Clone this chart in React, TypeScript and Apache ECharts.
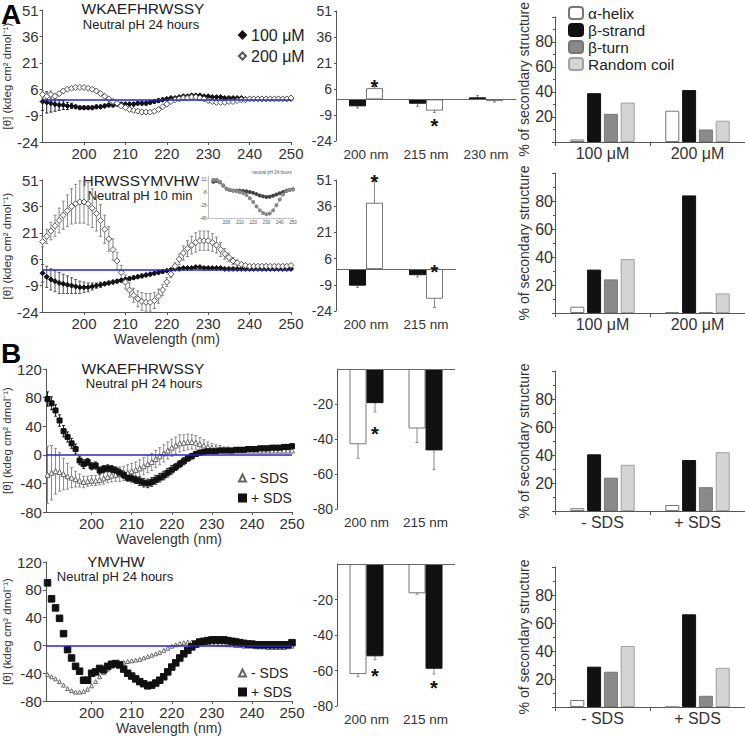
import React, { useEffect, useRef } from 'react';
import * as echarts from 'echarts';

const FN = "'Liberation Sans Narrow', 'Arial Narrow', 'Liberation Sans', Arial, sans-serif";
const FR = "'Liberation Sans', Arial, sans-serif";
const TXT = '#333333';
const AXC = '#555555';

// ---- CD spectra: wavelengths ----
const WL_A = Array.from({ length: 61 }, (_, i) => 190 + i);
const WL_B = Array.from({ length: 62 }, (_, i) => 189 + i);
const CD_TICKS = [200, 210, 220, 230, 240, 250];

// Row A1: WKAEFHRWSSY neutral pH 24 h
const A1_100 = [-1, -1.5, -2, -2.5, -3, -3, -3.5, -3.5, -4, -4.5,
  -4.5, -4.5, -4.5, -4, -4, -3.5, -3, -3, -2.5, -2.5,
  -2.5, -2.5, -2.5, -2, -2, -2, -1.5, -1, -0.5, 0,
  0.5, 1, 1, 1.5, 2, 2, 2.5, 2.5, 2.5, 2,
  2, 1.5, 1.5, 1.5, 1, 1, 1, 1, 1, 0.5,
  0.5, 0.5, 0.5, 0.5, 0.5, 0.5, 0.5, 0.5, 0.5, 0.5,
  0.5];
const A1_100_ERR = [5, 6, 5, 4, 3, 2.5, 2, 1.5, 1, 1,
  1, 1, 1, 1, 1, 1, 1, 1, 1, 1,
  1, 1, 1, 1, 1, 1, 1, 1, 1, 1,
  0.5, 0.5, 0.5, 0.5, 0.5, 0.5, 0.5, 0.5, 0.5, 0.5,
  0.5, 0.5, 0.5, 0.5, 0.5, 0.5, 0.5, 0.5, 0.5, 0.5,
  0.5, 0.5, 0.5, 0.5, 0.5, 0.5, 0.5, 0.5, 0.5, 0.5,
  0.5];
const A1_200 = [3, 2, 3, 2, 3.5, 5, 6, 6.5, 7, 7,
  7, 6.5, 6, 5, 3.5, 2, 0.5, -1, -2, -3.5,
  -4.5, -5.5, -6, -6.5, -7, -7, -7, -6.5, -5.5, -4,
  -2.5, -1, 0, 0.5, 1, 1, 1.5, 1.5, 1, 0.5,
  -0.5, -1, -1.5, -1.5, -1.5, -1, -1, -0.5, 0, 0,
  0.5, 0.5, 0.5, 0.5, 0.5, 0.5, 0.5, 0.5, 0.5, 0.5,
  1];
const A1_200_ERR = [2, 2, 2, 1.5, 1, 0.5, 0.5, 0.5, 0.5, 0.5,
  0.5, 0.5, 0.5, 0.5, 0.5, 0.5, 0.5, 0.5, 0.5, 0.5,
  0.5, 0.5, 0.5, 0.5, 0.5, 0.5, 0.5, 0.5, 0.5, 0.5,
  0.5, 0.5, 0.5, 0.5, 0.5, 0.5, 0.5, 0.5, 0.5, 0.5,
  0.5, 0.5, 0.5, 0.5, 0.5, 0.5, 0.5, 0.5, 0.5, 0.5,
  0.5, 0.5, 0.5, 0.5, 0.5, 0.5, 0.5, 0.5, 0.5, 0.5,
  0.5];

// Row A2: HRWSSYMVHW neutral pH 10 min
const A2_100 = [-2, -4, -5.5, -6.5, -7.5, -8, -8.5, -9, -9.5, -10,
  -10, -10, -9.5, -9, -8.5, -8, -7.5, -7, -6.5, -6,
  -5.5, -5, -4.5, -4, -3.5, -3, -2.5, -2, -1.5, -1,
  -0.5, 0, 0.5, 0.5, 1, 1, 1, 1.5, 1.5, 1,
  1, 1, 1, 1, 0.5, 0.5, 0.5, 0.5, 0.5, 0.5,
  0.5, 0.5, 0.5, 0.5, 0.5, 0.5, 0.5, 0.5, 0.5, 0.5,
  0.5];
const A2_100_ERR = [5, 6, 6, 6, 6, 5.5, 5, 4.5, 4, 3.5,
  3, 2.5, 2, 1.5, 1.5, 1, 1, 1, 1, 1,
  1, 1, 1, 1, 1, 1, 1, 1, 1, 1,
  0.5, 0.5, 0.5, 0.5, 0.5, 0.5, 0.5, 0.5, 0.5, 0.5,
  0.5, 0.5, 0.5, 0.5, 0.5, 0.5, 0.5, 0.5, 0.5, 0.5,
  0.5, 0.5, 0.5, 0.5, 0.5, 0.5, 0.5, 0.5, 0.5, 0.5,
  0.5];
const A2_200 = [16, 19, 22, 25, 28, 31, 33.5, 36, 37.5, 38.5,
  38.5, 37.5, 35, 32, 28, 23, 17.5, 11.5, 5, -1.5,
  -7, -11.5, -14.5, -16.5, -18, -18.5, -18.5, -17.5, -15, -11.5,
  -7, -2.5, 2, 6, 9.5, 12, 14, 15.5, 16.5, 16.5,
  16.5, 15.5, 14, 11.5, 9, 7, 5, 4, 3, 2.5,
  2, 2, 2, 2, 2, 2, 2, 2, 2, 2,
  2.5];
const A2_200_ERR = [3, 4, 5, 6, 7, 8, 9, 10, 11, 12,
  12, 12, 11, 10, 9, 8, 7, 6, 5, 4,
  4, 4, 4, 4.5, 5, 5, 5, 4.5, 4, 3,
  2.5, 2, 2, 3, 4, 4.5, 5, 5.5, 5.5, 5.5,
  5.5, 5, 4.5, 4, 3, 2.5, 2, 1.5, 1, 1,
  1, 1, 1, 1, 1, 1, 1, 1, 1, 1,
  1];

// Inset: HRWSSYMVHW neutral pH 24 hours
const INSET_WL = [190, 192.5, 195, 197.5, 200, 202.5, 205, 207.5, 210, 212.5, 215, 217.5, 220,
  222.5, 225, 227.5, 230, 232.5, 235, 237.5, 240, 242.5, 245, 247.5, 250];
const INSET_100 = [9, 10, 8, 3, -2, -4, -5, -5, -5, -5.5, -6, -7, -8.5, -10.5, -12.5, -14, -15,
  -14.5, -13, -11, -9, -7, -5, -4, -3];
const INSET_200 = [12, 12, 9, 3, -2, -4, -5, -6, -7, -9, -12, -17, -23, -30, -36, -40, -42,
  -41, -36, -28, -19, -11, -6, -4, -3];

// Row B1: WKAEFHRWSSY -/+ SDS
const B1_MINUS = [-28, -25, -23, -24, -27, -30, -32, -34, -36, -38,
  -37, -36, -36, -35, -33, -31, -29, -28, -27, -26,
  -25, -23, -21, -19, -16, -13, -10, -6, -2, 2,
  6, 10, 13, 16, 17, 18, 18, 17, 15, 13,
  11, 10, 9, 8, 7, 7, 6, 6, 6, 6,
  6, 6, 6, 6, 6, 6, 6, 6, 6, 6,
  6, 6];
const B1_MINUS_ERR = [40, 38, 32, 27, 22, 18, 14, 11, 9, 8,
  7, 7, 7, 7, 8, 8, 9, 9, 10, 10,
  11, 11, 11, 12, 12, 12, 12, 12, 12, 12,
  12, 12, 12, 12, 11, 11, 10, 10, 9, 8,
  7, 6, 5, 5, 4, 4, 3, 3, 3, 3,
  3, 3, 3, 3, 3, 3, 3, 3, 3, 3,
  3, 3];
const B1_PLUS = [78, 72, 62, 48, 33, 25, 16, 8, -8, -13,
  -10, -16, -15, -22, -20, -19, -20, -22, -25, -28,
  -32, -33, -35, -37, -39, -40, -38, -35, -32, -29,
  -25, -21, -17, -13, -9, -5, -2, 1, 3, 4,
  5, 5, 5, 6, 6, 6, 6, 7, 7, 7,
  8, 8, 8, 9, 9, 9, 10, 10, 10, 11,
  11, 12];
const B1_PLUS_ERR = [10, 9, 8, 8, 8, 7, 7, 7, 6, 6,
  5, 5, 5, 5, 5, 5, 5, 5, 5, 5,
  5, 5, 5, 6, 6, 6, 6, 6, 6, 6,
  6, 6, 5, 5, 5, 4, 4, 3, 3, 3,
  3, 3, 3, 3, 3, 3, 3, 3, 3, 3,
  3, 3, 3, 3, 3, 3, 3, 3, 3, 3,
  3, 3];

// Row B2: YMVHW -/+ SDS
const B2_MINUS = [-42, -45, -48, -52, -57, -62, -65, -67, -67, -66,
  -63, -58, -52, -45, -39, -34, -30, -27, -25, -24,
  -23, -22, -21, -20, -18, -16, -14, -12, -10, -7,
  -4, -1, 1, 3, 4, 5, 5, 5, 5, 4,
  4, 3, 3, 2, 2, 1, 1, 0, 0, -1,
  -1, -1, -2, -2, -2, -3, -3, -3, -3, -3,
  -2, -1];
const B2_PLUS = [90, 67, 54, 39, 17, -6, -18, -30, -37, -50,
  -50, -40, -38, -33, -35, -30, -27, -26, -28, -34,
  -40, -44, -48, -52, -55, -58, -57, -54, -50, -45,
  -38, -31, -25, -18, -12, -7, -2, 2, 5, 6,
  7, 8, 8, 8, 8, 7, 6, 5, 4, 3,
  2, 2, 1, 1, 1, 1, 1, 1, 1, 1,
  1, 4];

// ---- Ellipticity bar charts ----
const NM3 = ['200 nm', '215 nm', '230 nm'];
const NM2 = ['200 nm', '215 nm'];
const BA1_BLACK = [-4, -2.5, 1.2];
const BA1_BLACK_ERR = [1, 1.5, 1];
const BA1_WHITE = [6.5, -6.5, -1];
const BA1_WHITE_ERR = [1, 1, 0.5];
const BA1_STARS = [[0, 10], [1, -12.5]];
const BA2_BLACK = [-9.5, -3.5];
const BA2_BLACK_ERR = [1, 1];
const BA2_WHITE = [38, -17];
const BA2_WHITE_ERR = [13, 5];
const BA2_STARS = [[0, 53], [1, 1]];
const BB1_WHITE = [-43, -34];
const BB1_WHITE_ERR = [8, 8];
const BB1_BLACK = [-19.5, -46.5];
const BB1_BLACK_ERR = [5, 11];
const BB1_STARS = [[0, -34]];
const BB2_WHITE = [-62, -16.5];
const BB2_WHITE_ERR = [1.5, 0.5];
const BB2_BLACK = [-52, -59];
const BB2_BLACK_ERR = [2, 3];
const BB2_STARS = [[0, -60], [1, -67]];

// ---- Secondary structure (%) ----
const SS_CONC = ['100 μM', '200 μM'];
const SS_SDS = ['- SDS', '+ SDS'];
const SS_NAMES = ['α-helix', 'β-strand', 'β-turn', 'Random coil'];
const SS_A1 = [[2, 25], [39, 41.5], [22.5, 10], [31.5, 17]];
const SS_A2 = [[4.5, 0.5], [31, 84], [24, 0.5], [38.5, 14]];
const SS_B1 = [[2, 4.3], [40.5, 36.4], [23.8, 17], [33, 42]];
const SS_B2 = [[5, 0], [28.8, 66.2], [25.2, 8], [43.6, 28]];

const SS_STYLE = [
  { color: '#ffffff', borderColor: '#777777' },
  { color: '#111111', borderColor: '#111111' },
  { color: '#8a8a8a', borderColor: '#777777' },
  { color: '#d4d4d4', borderColor: '#a0a0a0' },
];

function errorRender(color: string, cap: number, dx: number) {
  return (params: any, api: any) => {
    const x = api.value(0);
    const y = api.value(1);
    const e = api.value(2);
    const hi = api.coord([x, y + e]);
    const lo = api.coord([x, y - e]);
    const cx = hi[0] + dx;
    const style = { stroke: color, lineWidth: 1 };
    return {
      type: 'group',
      children: [
        { type: 'line', shape: { x1: cx, y1: hi[1], x2: cx, y2: lo[1] }, style },
        { type: 'line', shape: { x1: cx - cap, y1: hi[1], x2: cx + cap, y2: hi[1] }, style },
        { type: 'line', shape: { x1: cx - cap, y1: lo[1], x2: cx + cap, y2: lo[1] }, style },
      ],
    };
  };
}

function starRender(dx: number) {
  return (params: any, api: any) => {
    const p = api.coord([api.value(0), api.value(1)]);
    return {
      type: 'text',
      x: p[0] + dx,
      y: p[1] + 5,
      style: {
        text: '*', fontSize: 20, fontWeight: 'bold', fontFamily: FR, fill: '#111',
        align: 'center', verticalAlign: 'middle', textAlign: 'center', textVerticalAlign: 'middle',
      },
    };
  };
}

function errSeries(gi: number, xs: any[], ys: number[], es: number[], color: string, cap: number, dx = 0) {
  return {
    type: 'custom', xAxisIndex: gi, yAxisIndex: gi, silent: true, clip: false, z: 2,
    renderItem: errorRender(color, cap, dx),
    encode: { x: 0, y: 1 },
    data: xs.map((x, i) => [x, ys[i], es[i]]),
  };
}

function starSeries(gi: number, stars: number[][], dx: number) {
  return {
    type: 'custom', xAxisIndex: gi, yAxisIndex: gi, silent: true, clip: false, z: 5,
    renderItem: starRender(dx), encode: { x: 0, y: 1 }, data: stars,
  };
}

function scatter(name: string, gi: number, xs: number[], ys: number[], symbol: string, size: number, color: string, border: string, zero = false) {
  const s: any = {
    type: 'scatter', name, xAxisIndex: gi, yAxisIndex: gi, symbol, symbolSize: size, z: 3,
    itemStyle: { color, borderColor: border, borderWidth: 1, opacity: 1 },
    data: xs.map((x, i) => [x, ys[i]]),
  };
  if (zero) {
    s.markLine = {
      silent: true, symbol: ['none', 'none'], label: { show: false }, animation: false,
      lineStyle: { color: '#2626c8', width: 1.6, type: 'solid' }, data: [{ yAxis: 0 }],
    };
  }
  return s;
}

function bar(gi: number, data: number[], color: string, border: string, zero = false) {
  const s: any = {
    type: 'bar', xAxisIndex: gi, yAxisIndex: gi, data, barWidth: 17, barGap: '0%',
    itemStyle: { color, borderColor: border, borderWidth: 1 }, z: 2,
  };
  if (zero) {
    s.markLine = {
      silent: true, symbol: ['none', 'none'], label: { show: false }, animation: false,
      lineStyle: { color: '#666', width: 1, type: 'solid' }, data: [{ yAxis: 0 }],
    };
  }
  return s;
}

function ssBars(gi: number, groups: number[][]) {
  return SS_NAMES.map((name, k) => ({
    type: 'bar', name, xAxisIndex: gi, yAxisIndex: gi, data: groups[k], barWidth: 14, barGap: '20%',
    itemStyle: { color: SS_STYLE[k].color, borderColor: SS_STYLE[k].borderColor, borderWidth: 1 },
  }));
}

function cdX(gi: number, min: number, withName: boolean) {
  return {
    gridIndex: gi, type: 'value', min, max: 250,
    axisLine: { show: true, onZero: false, lineStyle: { color: AXC } },
    axisTick: { show: true, length: 3, customValues: CD_TICKS, lineStyle: { color: AXC } },
    axisLabel: { customValues: CD_TICKS, fontSize: 15, margin: 4, color: TXT, fontFamily: FN },
    splitLine: { show: false },
    name: withName ? 'Wavelength (nm)' : '',
    nameLocation: 'middle', nameGap: 16,
    nameTextStyle: { fontSize: 14, color: TXT, fontFamily: FN },
  };
}

function cdY(gi: number, min: number, max: number, interval: number) {
  return {
    gridIndex: gi, type: 'value', min, max, interval,
    axisLine: { show: true, lineStyle: { color: AXC } },
    axisTick: { show: true, length: 3, lineStyle: { color: AXC } },
    axisLabel: { fontSize: 15, margin: 4, color: TXT, fontFamily: FN },
    splitLine: { show: false },
    name: '[θ] (kdeg cm² dmol⁻¹)', nameLocation: 'middle', nameGap: 20,
    nameTextStyle: { fontSize: 11.5, color: TXT, fontFamily: FR },
  };
}

function barX(gi: number, cats: string[]) {
  return {
    gridIndex: gi, type: 'category', data: cats, position: 'bottom',
    axisLine: { show: false, onZero: false }, axisTick: { show: false },
    axisLabel: { fontSize: 13.5, margin: 6, color: TXT, fontFamily: FN },
    splitLine: { show: false },
  };
}

function barY(gi: number, min: number, max: number, interval: number, hideMax: boolean) {
  return {
    gridIndex: gi, type: 'value', min, max, interval,
    axisLine: { show: true, lineStyle: { color: AXC } },
    axisTick: { show: true, length: 2, lineStyle: { color: AXC } },
    axisLabel: { fontSize: 14, margin: 4, color: TXT, fontFamily: FN, showMaxLabel: !hideMax },
    splitLine: { show: false },
  };
}

function ssX(gi: number, cats: string[]) {
  return {
    gridIndex: gi, type: 'category', data: cats,
    axisLine: { show: true, onZero: false, lineStyle: { color: AXC } },
    axisTick: { show: true, length: 4, lineStyle: { color: AXC } },
    axisLabel: { fontSize: 16, margin: 3, color: TXT, fontFamily: FN },
    splitLine: { show: false },
  };
}

function ssY(gi: number) {
  return {
    gridIndex: gi, type: 'value', min: 0, max: 100, interval: 20,
    axisLine: { show: true, lineStyle: { color: AXC } },
    axisTick: { show: true, length: 3, lineStyle: { color: AXC } },
    minorTick: { show: true, splitNumber: 2, length: 2, lineStyle: { color: AXC } },
    axisLabel: { fontSize: 16, margin: 2, color: TXT, fontFamily: FN, showMinLabel: false, showMaxLabel: false },
    splitLine: { show: false },
    name: '% of secondary structure', nameLocation: 'middle', nameGap: 17,
    nameTextStyle: { fontSize: 14, color: TXT, fontFamily: FR },
  };
}

function gtext(text: string, x: number, y: number, fontSize: number, extra: any = {}) {
  return {
    type: 'text', x, y, silent: true,
    style: {
      text, fontSize, fontFamily: FN, fill: '#222',
      align: 'center', verticalAlign: 'middle', textAlign: 'center', textVerticalAlign: 'middle',
      ...extra,
    },
  };
}

function buildOption() {
  const grid = [
    { left: 33, top: 10, width: 258, height: 132 },
    { left: 33, top: 180, width: 258, height: 132 },
    { left: 33, top: 369, width: 259, height: 143 },
    { left: 33, top: 562, width: 259, height: 144 },
    { left: 208, top: 176, width: 85, height: 42 },
    { left: 336, top: 11, width: 180, height: 130 },
    { left: 336, top: 180, width: 120, height: 131 },
    { left: 337, top: 369, width: 118, height: 140 },
    { left: 337, top: 564, width: 118, height: 142 },
    { left: 555, top: 2, width: 190, height: 140 },
    { left: 555, top: 173, width: 190, height: 140 },
    { left: 555, top: 371, width: 190, height: 140 },
    { left: 555, top: 567, width: 190, height: 140 },
  ];

  const xAxis: any[] = [
    cdX(0, 190, false),
    cdX(1, 190, true),
    cdX(2, 188.6, true),
    cdX(3, 188.6, true),
    {
      gridIndex: 4, type: 'value', min: 186, max: 250,
      axisLine: { show: true, onZero: false, lineStyle: { color: '#999', width: 0.6 } },
      axisTick: { show: true, length: 1, customValues: CD_TICKS, lineStyle: { color: '#999', width: 0.6 } },
      axisLabel: { customValues: CD_TICKS, fontSize: 4.5, margin: 1.5, color: '#555', fontFamily: FN },
      splitLine: { show: false },
    },
    barX(5, NM3),
    barX(6, NM2),
    barX(7, NM2),
    barX(8, NM2),
    ssX(9, SS_CONC),
    ssX(10, SS_CONC),
    ssX(11, SS_SDS),
    ssX(12, SS_SDS),
  ];

  const yAxis: any[] = [
    cdY(0, -24, 51, 15),
    cdY(1, -24, 51, 15),
    cdY(2, -80, 120, 40),
    cdY(3, -80, 120, 40),
    {
      gridIndex: 4, type: 'value', min: -48, max: 18, interval: 20,
      axisLine: { show: true, lineStyle: { color: '#999', width: 0.6 } },
      axisTick: { show: true, length: 1, lineStyle: { color: '#999', width: 0.6 } },
      axisLabel: { fontSize: 4.5, margin: 1.5, color: '#555', fontFamily: FN },
      splitLine: { show: false },
    },
    barY(5, -24, 51, 15, false),
    barY(6, -24, 51, 15, false),
    barY(7, -80, 0, 20, true),
    barY(8, -80, 0, 20, true),
    ssY(9),
    ssY(10),
    ssY(11),
    ssY(12),
  ];

  const series: any[] = [
    // A1
    errSeries(0, WL_A, A1_100, A1_100_ERR, '#222', 1.5),
    errSeries(0, WL_A, A1_200, A1_200_ERR, '#888', 1.5),
    scatter('100 μM', 0, WL_A, A1_100, 'diamond', 5, '#111', '#111', true),
    scatter('200 μM', 0, WL_A, A1_200, 'diamond', 6, '#fff', '#555'),
    // A2
    errSeries(1, WL_A, A2_100, A2_100_ERR, '#555', 1.5),
    errSeries(1, WL_A, A2_200, A2_200_ERR, '#888', 1.5),
    scatter('100 μM', 1, WL_A, A2_100, 'diamond', 5, '#111', '#111', true),
    scatter('200 μM', 1, WL_A, A2_200, 'diamond', 6, '#fff', '#555'),
    // inset
    {
      type: 'line', xAxisIndex: 4, yAxisIndex: 4, symbol: 'emptyCircle', symbolSize: 2,
      lineStyle: { color: '#444', width: 0.7 }, itemStyle: { color: '#444' },
      data: INSET_WL.map((x, i) => [x, INSET_100[i]]),
    },
    {
      type: 'line', xAxisIndex: 4, yAxisIndex: 4, symbol: 'emptyCircle', symbolSize: 2,
      lineStyle: { color: '#888', width: 0.7 }, itemStyle: { color: '#888' },
      data: INSET_WL.map((x, i) => [x, INSET_200[i]]),
    },
    // B1
    errSeries(2, WL_B, B1_MINUS, B1_MINUS_ERR, '#8a8a8a', 1.5),
    errSeries(2, WL_B, B1_PLUS, B1_PLUS_ERR, '#222', 1.5),
    scatter('- SDS', 2, WL_B, B1_MINUS, 'triangle', 5, '#fff', '#666', true),
    scatter('+ SDS', 2, WL_B, B1_PLUS, 'rect', 5, '#111', '#111'),
    // B2
    scatter('- SDS', 3, WL_B, B2_MINUS, 'triangle', 4, '#fff', '#666', true),
    scatter('+ SDS', 3, WL_B, B2_PLUS, 'rect', 6.5, '#111', '#111'),
    // ellipticity bars A1
    bar(5, BA1_BLACK, '#111', '#111', true),
    bar(5, BA1_WHITE, '#fff', '#777'),
    errSeries(5, [0, 1, 2], BA1_BLACK, BA1_BLACK_ERR, '#888', 1.5, -8.5),
    errSeries(5, [0, 1, 2], BA1_WHITE, BA1_WHITE_ERR, '#888', 1.5, 8.5),
    starSeries(5, BA1_STARS, 8.5),
    // A2
    bar(6, BA2_BLACK, '#111', '#111', true),
    bar(6, BA2_WHITE, '#fff', '#777'),
    errSeries(6, [0, 1], BA2_BLACK, BA2_BLACK_ERR, '#888', 1.5, -8.5),
    errSeries(6, [0, 1], BA2_WHITE, BA2_WHITE_ERR, '#888', 1.5, 8.5),
    starSeries(6, BA2_STARS, 8.5),
    // B1
    bar(7, BB1_WHITE, '#fff', '#777', true),
    bar(7, BB1_BLACK, '#111', '#111'),
    errSeries(7, [0, 1], BB1_WHITE, BB1_WHITE_ERR, '#888', 1.5, -8.5),
    errSeries(7, [0, 1], BB1_BLACK, BB1_BLACK_ERR, '#888', 1.5, 8.5),
    starSeries(7, BB1_STARS, 8.5),
    // B2
    bar(8, BB2_WHITE, '#fff', '#777', true),
    bar(8, BB2_BLACK, '#111', '#111'),
    errSeries(8, [0, 1], BB2_WHITE, BB2_WHITE_ERR, '#888', 1.5, -8.5),
    errSeries(8, [0, 1], BB2_BLACK, BB2_BLACK_ERR, '#888', 1.5, 8.5),
    starSeries(8, BB2_STARS, 8.5),
    // secondary structure
    ...ssBars(9, SS_A1),
    ...ssBars(10, SS_A2),
    ...ssBars(11, SS_B1),
    ...ssBars(12, SS_B2),
  ];

  const legend = [
    {
      data: ['100 μM', '200 μM'], orient: 'vertical', left: 238, top: 27, padding: 0,
      itemWidth: 7, itemHeight: 7, itemGap: 5, selectedMode: false,
      textStyle: { fontSize: 16, lineHeight: 16, color: '#222', fontFamily: FN },
    },
    {
      data: ['- SDS', '+ SDS'], orient: 'vertical', left: 238, top: 471, padding: 0,
      itemWidth: 7, itemHeight: 7, itemGap: 6, selectedMode: false,
      textStyle: { fontSize: 14, lineHeight: 14, color: '#222', fontFamily: FN },
    },
    {
      data: ['- SDS', '+ SDS'], orient: 'vertical', left: 238, top: 666, padding: 0,
      itemWidth: 7, itemHeight: 7, itemGap: 5, selectedMode: false,
      textStyle: { fontSize: 14, lineHeight: 14, color: '#222', fontFamily: FN },
    },
    {
      data: SS_NAMES, orient: 'vertical', left: 568, top: 5, padding: 0,
      itemWidth: 14, itemHeight: 12, itemGap: 1, selectedMode: false,
      textStyle: { fontSize: 15.5, lineHeight: 14, color: '#222', fontFamily: FN },
    },
  ];

  const graphic = [
    { type: 'text', x: 1, y: 0, silent: true, style: { text: 'A', fontSize: 28, fontWeight: 'bold', fontFamily: FR, fill: '#000' } },
    { type: 'text', x: 1, y: 339, silent: true, style: { text: 'B', fontSize: 28, fontWeight: 'bold', fontFamily: FR, fill: '#000' } },
    gtext('WKAEFHRWSSY', 143, 8, 15.5),
    gtext('Neutral pH 24 hours', 141, 24, 13),
    gtext('HRWSSYMVHW', 141, 180, 15.5),
    gtext('Neutral pH 10 min', 140, 195, 13),
    gtext('neutral pH 24 hours', 272, 172, 4.5, { fill: '#555' }),
    gtext('WKAEFHRWSSY', 143, 368, 15.5),
    gtext('Neutral pH 24 hours', 144, 383, 13),
    gtext('YMVHW', 116, 561, 15),
    gtext('Neutral pH 24 hours', 115, 576, 13),
  ];

  return {
    animation: false,
    backgroundColor: '#ffffff',
    grid, xAxis, yAxis, series, legend, graphic,
  };
}

export default function App() {
  const ref = useRef<HTMLDivElement>(null);
  useEffect(() => {
    if (!ref.current) return;
    const chart = echarts.init(ref.current, null, { renderer: 'svg' });
    chart.setOption(buildOption() as any);
    return () => chart.dispose();
  }, []);
  return (
    <div
      ref={ref}
      style={{ position: 'fixed', left: 0, top: 0, width: 745, height: 736, background: '#fff' }}
    />
  );
}
